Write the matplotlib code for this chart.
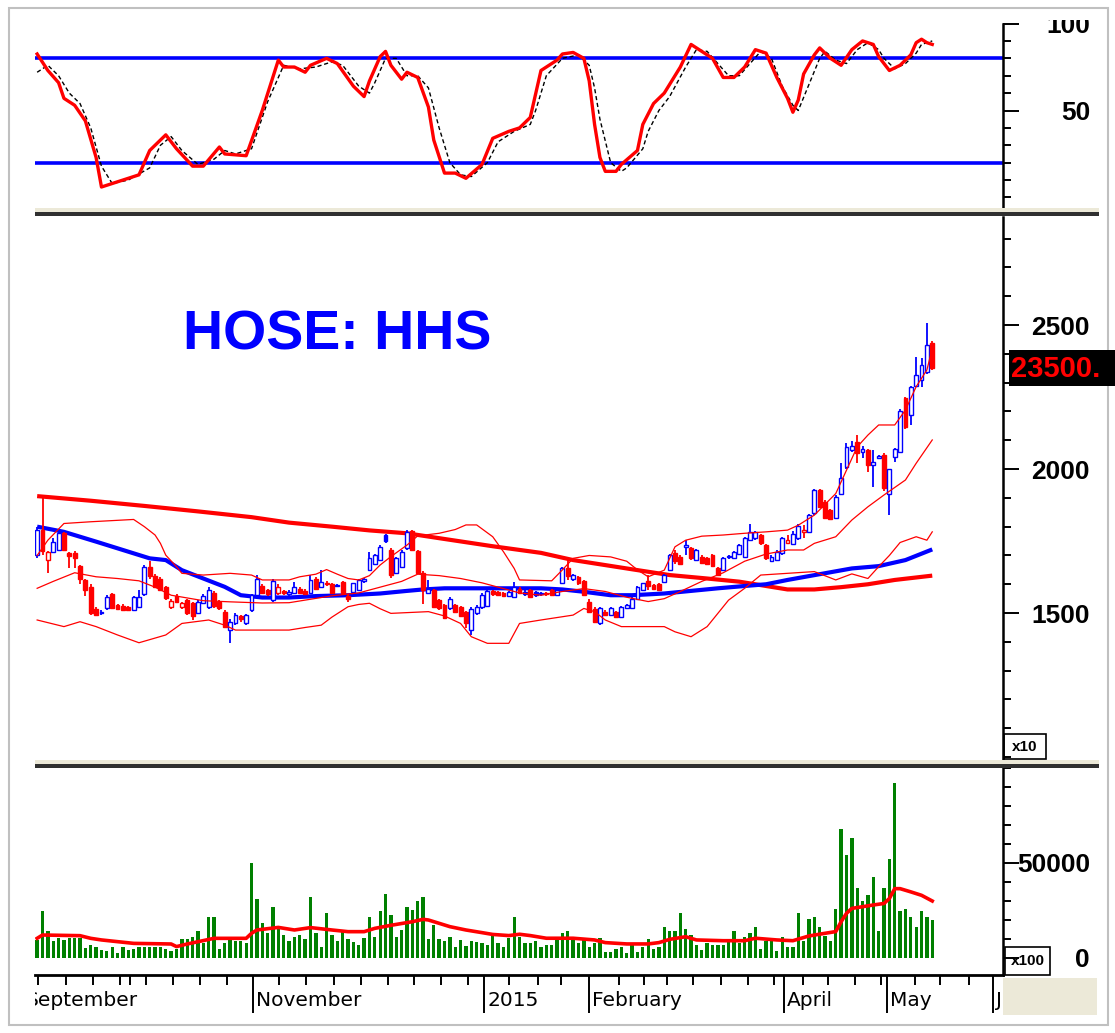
import numpy as np
import matplotlib
matplotlib.use("Agg")
import matplotlib.pyplot as plt
from matplotlib.patches import Rectangle
from matplotlib.transforms import Bbox, TransformedBbox

plt.rcParams['font.family'] = ['Liberation Sans', 'DejaVu Sans']

W, H = 1115, 1033
PT = 72 / 100  # points per pixel at dpi 100
RED = '#ff0000'
BLUE = '#0000ff'
GREEN = '#008000'

# ---- daily candles (trading-day index 0..167), price in VND/10 ----
opens = [1701, 1790, 1684, 1713, 1719, 1777, 1707, 1710, 1665, 1615,
         1590, 1515, 1500, 1516, 1567, 1528, 1526, 1522, 1512, 1520,
         1565, 1660, 1630, 1620, 1590, 1520, 1560, 1520, 1545, 1535,
         1500, 1535, 1520, 1568, 1540, 1505, 1440, 1464, 1490, 1464,
         1510, 1562, 1595, 1580, 1545, 1570, 1575, 1565, 1570, 1585,
         1578, 1568, 1620, 1591, 1605, 1600, 1595, 1609, 1560, 1574,
         1580, 1610, 1650, 1672, 1685, 1770, 1720, 1640, 1660, 1725,
         1785, 1715, 1640, 1570, 1580, 1545, 1528, 1516, 1528, 1522,
         1505, 1440, 1500, 1520, 1525, 1575, 1572, 1568, 1560, 1557,
         1585, 1565, 1580, 1572, 1565, 1568, 1580, 1562, 1603, 1655,
         1617, 1625, 1610, 1540, 1515, 1464, 1505, 1493, 1505, 1487,
         1517, 1518, 1550, 1580, 1610, 1598, 1600, 1609, 1650, 1710,
         1695, 1730, 1725, 1685, 1695, 1690, 1700, 1655, 1650, 1693,
         1690, 1705, 1695, 1755, 1760, 1770, 1735, 1680, 1684, 1707,
         1745, 1740, 1760, 1782, 1782, 1846, 1927, 1887, 1857, 1829,
         1915, 2008, 2066, 2095, 2060, 2066, 2014, 2040, 2048, 1915,
         2043, 2060, 2245, 2187, 2290, 2310, 2338, 2436]
highs = [1800, 1906, 1716, 1760, 1790, 1782, 1712, 1715, 1668, 1620,
         1600, 1520, 1512, 1562, 1570, 1530, 1530, 1525, 1560, 1580,
         1668, 1680, 1635, 1625, 1595, 1548, 1565, 1538, 1550, 1540,
         1545, 1565, 1590, 1575, 1545, 1510, 1480, 1500, 1495, 1498,
         1565, 1632, 1600, 1585, 1620, 1600, 1580, 1580, 1609, 1590,
         1582, 1632, 1625, 1650, 1612, 1605, 1600, 1612, 1565, 1605,
         1618, 1622, 1713, 1705, 1735, 1775, 1725, 1695, 1718, 1788,
         1790, 1720, 1645, 1615, 1585, 1550, 1532, 1555, 1532, 1525,
         1508, 1520, 1528, 1568, 1580, 1580, 1575, 1572, 1578, 1609,
         1590, 1580, 1585, 1575, 1572, 1572, 1585, 1585, 1660, 1684,
         1635, 1630, 1615, 1548, 1520, 1520, 1510, 1520, 1508, 1525,
         1532, 1555, 1595, 1606, 1632, 1602, 1605, 1636, 1705, 1718,
         1700, 1755, 1730, 1722, 1700, 1695, 1705, 1660, 1695, 1700,
         1716, 1740, 1765, 1810, 1786, 1775, 1740, 1700, 1718, 1765,
         1770, 1785, 1810, 1805, 1845, 1930, 1932, 1892, 1860, 1910,
         2020, 2089, 2097, 2118, 2080, 2070, 2066, 2050, 2055, 2000,
         2072, 2210, 2250, 2290, 2390, 2385, 2508, 2445]
lows = [1690, 1700, 1638, 1708, 1715, 1715, 1655, 1655, 1600, 1560,
        1495, 1490, 1492, 1510, 1514, 1512, 1510, 1506, 1508, 1518,
        1560, 1620, 1588, 1575, 1545, 1515, 1535, 1515, 1495, 1475,
        1498, 1530, 1515, 1518, 1512, 1448, 1395, 1460, 1470, 1460,
        1505, 1555, 1565, 1560, 1540, 1562, 1562, 1560, 1565, 1565,
        1562, 1565, 1580, 1588, 1595, 1565, 1590, 1565, 1540, 1570,
        1575, 1605, 1645, 1668, 1680, 1745, 1622, 1635, 1655, 1720,
        1715, 1635, 1530, 1565, 1518, 1512, 1478, 1510, 1500, 1485,
        1447, 1425, 1495, 1515, 1520, 1560, 1558, 1555, 1555, 1552,
        1565, 1560, 1552, 1555, 1560, 1560, 1558, 1560, 1600, 1615,
        1612, 1598, 1558, 1500, 1465, 1460, 1490, 1490, 1482, 1482,
        1514, 1515, 1548, 1578, 1580, 1582, 1576, 1605, 1645, 1670,
        1668, 1700, 1685, 1680, 1670, 1668, 1660, 1628, 1645, 1688,
        1686, 1700, 1690, 1750, 1755, 1738, 1684, 1676, 1680, 1703,
        1740, 1735, 1752, 1760, 1778, 1840, 1865, 1825, 1822, 1825,
        1910, 2000, 2060, 2020, 2040, 1990, 1938, 2035, 1925, 1840,
        2025, 2055, 2140, 2152, 2285, 2285, 2330, 2345]
closes = [1788, 1715, 1712, 1748, 1777, 1719, 1699, 1690, 1620, 1580,
          1500, 1493, 1505, 1557, 1516, 1514, 1512, 1510, 1555, 1557,
          1660, 1627, 1592, 1580, 1551, 1543, 1540, 1535, 1499, 1490,
          1540, 1560, 1580, 1523, 1517, 1453, 1468, 1493, 1480, 1493,
          1562, 1620, 1570, 1565, 1612, 1592, 1568, 1574, 1590, 1570,
          1566, 1614, 1585, 1609, 1600, 1568, 1597, 1568, 1548, 1603,
          1615, 1618, 1690, 1700, 1730, 1750, 1632, 1690, 1713, 1782,
          1720, 1640, 1580, 1585, 1522, 1517, 1482, 1550, 1505, 1490,
          1465, 1515, 1522, 1562, 1575, 1565, 1562, 1560, 1572, 1591,
          1570, 1574, 1557, 1562, 1568, 1566, 1562, 1580, 1655, 1630,
          1632, 1603, 1562, 1505, 1470, 1516, 1495, 1516, 1487, 1522,
          1528, 1550, 1590, 1603, 1595, 1585, 1580, 1632, 1700, 1680,
          1672, 1735, 1690, 1718, 1675, 1672, 1665, 1632, 1690, 1696,
          1713, 1735, 1760, 1780, 1782, 1742, 1690, 1695, 1713, 1759,
          1752, 1776, 1802, 1790, 1840, 1927, 1869, 1830, 1826, 1904,
          1968, 2077, 2080, 2054, 2070, 2014, 2025, 2043, 1933, 1999,
          2068, 2200, 2147, 2286, 2325, 2360, 2430, 2350]
volumes = [9500, 24700, 14200, 9100, 10400, 9500, 10400, 10400, 10400, 5100,
           6800, 5600, 4200, 3900, 6000, 2800, 6000, 4200, 4600, 6000,
           6000, 6000, 6000, 6000, 4600, 3900, 4600, 10000, 10000, 11200,
           14400, 7700, 21800, 21800, 4600, 8100, 9500, 9100, 9100, 8100,
           50200, 31000, 18600, 13300, 27000, 16500, 12100, 9100, 10900, 12100,
           9800, 32300, 13000, 5600, 23900, 12100, 9100, 14400, 9800, 8600,
           6800, 10400, 21800, 10900, 24700, 33500, 22600, 11200, 14700, 27000,
           25100, 30200, 32300, 9800, 17400, 9800, 9100, 10900, 6000, 9500,
           6300, 9100, 8600, 8100, 6800, 11400, 7700, 6000, 10300, 21800,
           11200, 8100, 8100, 9100, 6000, 6800, 6800, 9500, 13000, 14200,
           10300, 7700, 9500, 6000, 7700, 10300, 3300, 3300, 4600, 6000,
           2500, 6800, 3300, 6000, 9800, 4600, 6000, 16500, 14200, 14200,
           23900, 15100, 12100, 6800, 4200, 8100, 6800, 6800, 6800, 9500,
           14200, 7700, 11200, 13000, 16500, 4600, 9100, 9500, 3700, 11200,
           6000, 6000, 23500, 9100, 20700, 21800, 16500, 11600, 9100, 25600,
           68100, 54200, 63000, 36700, 30200, 33200, 42800, 14200, 36700, 51900,
           92300, 24700, 25600, 21800, 16500, 24700, 21800, 20000]

# ---- indicator lines (bar index, value) ----
ma_long_x = [0, 10, 20, 30, 40, 47, 55, 62, 69, 75, 85, 94, 100, 111, 118, 125,
             131, 136, 140, 145, 150, 155, 160, 167]
ma_long = [1906, 1890, 1872, 1853, 1833, 1814, 1800, 1787, 1777, 1760, 1732, 1709,
           1684, 1652, 1632, 1620, 1609, 1594, 1582, 1582, 1590, 1600, 1615, 1630]
ma_mid_x = [0, 5, 11, 16, 21, 24, 27, 31, 35, 38, 42, 47, 52, 58, 64, 69, 72, 76,
            83, 94, 98, 102, 107, 111, 117, 122, 127, 132, 136, 140, 146, 152, 157,
            162, 167]
ma_mid = [1800, 1782, 1748, 1719, 1690, 1684, 1649, 1620, 1591, 1562, 1554, 1554,
          1559, 1562, 1568, 1577, 1582, 1586, 1586, 1586, 1582, 1574, 1562, 1562,
          1568, 1577, 1586, 1594, 1600, 1615, 1635, 1655, 1663, 1684, 1721]
bb_up_x = [0, 2, 5, 10, 18, 20, 22, 23, 24, 26, 27, 31, 36, 40, 42, 47, 49, 52, 54,
           56, 58, 60, 62, 64, 66, 69, 71, 75, 78, 80, 82, 85, 87, 89, 90, 96, 98,
           100, 103, 107, 110, 112, 114, 117, 119, 121, 124, 128, 132, 136, 140,
           142, 145, 149, 151, 153, 155, 157, 160, 162, 164, 166, 167]
bb_up = [1700, 1753, 1811, 1817, 1825, 1800, 1771, 1742, 1701, 1661, 1638, 1632,
         1638, 1632, 1615, 1615, 1626, 1635, 1651, 1635, 1620, 1615, 1630, 1667,
         1696, 1736, 1768, 1777, 1790, 1806, 1806, 1765, 1713, 1655, 1615, 1612,
         1650, 1690, 1700, 1695, 1680, 1650, 1626, 1649, 1730, 1753, 1767, 1771,
         1777, 1782, 1788, 1805, 1840, 1915, 1996, 2077, 2118, 2153, 2153, 2205,
         2286, 2344, 2419]
bb_mid_x = [0, 3, 7, 11, 15, 19, 22, 25, 31, 36, 42, 47, 50, 55, 60, 64, 68, 71,
            75, 79, 83, 87, 90, 94, 98, 102, 106, 110, 114, 117, 120, 124, 128,
            132, 136, 140, 143, 145, 149, 152, 155, 158, 162, 164, 167]
bb_mid = [1586, 1610, 1640, 1626, 1620, 1612, 1590, 1562, 1543, 1539, 1535, 1536,
          1545, 1560, 1570, 1590, 1610, 1635, 1630, 1620, 1605, 1585, 1570, 1562,
          1575, 1585, 1575, 1555, 1540, 1550, 1575, 1610, 1640, 1680, 1705, 1719,
          1719, 1742, 1765, 1823, 1869, 1910, 1962, 2020, 2101]
bb_lo_x = [0, 5, 8, 11, 15, 19, 24, 27, 32, 35, 37, 47, 50, 53, 55, 58, 60, 62, 64,
           66, 73, 76, 79, 81, 84, 88, 90, 94, 100, 102, 104, 106, 109, 117, 119,
           122, 125, 127, 129, 132, 135, 140, 145, 149, 152, 155, 157, 159, 161,
           164, 166, 167]
bb_lo = [1476, 1453, 1470, 1453, 1424, 1397, 1424, 1464, 1476, 1458, 1441, 1441,
         1450, 1458, 1486, 1522, 1530, 1534, 1515, 1499, 1505, 1490, 1464, 1418,
         1395, 1395, 1464, 1476, 1493, 1516, 1505, 1476, 1453, 1453, 1435, 1418,
         1453, 1499, 1545, 1586, 1632, 1638, 1644, 1615, 1636, 1620, 1661, 1700,
         1745, 1765, 1753, 1782]
vol_ma_x = [0, 1, 8, 10, 12, 15, 18, 25, 26, 28, 33, 39, 40, 41, 45, 48, 51, 55,
            58, 61, 63, 66, 70, 72, 73, 75, 77, 80, 83, 85, 88, 90, 92, 95, 100,
            104, 106, 110, 114, 116, 118, 121, 123, 128, 132, 134, 138, 141, 144,
            147, 149, 150, 151, 152, 154, 156, 158, 159, 160, 161, 163, 165, 167]
vol_ma = [10350, 12100, 11750, 10350, 9500, 8600, 7700, 7370, 6000, 7370, 10350,
          10350, 13000, 14740, 16100, 14740, 16000, 14740, 13860, 13860, 15600,
          17200, 19100, 20350, 20000, 18250, 16500, 14740, 13350, 12400, 11800,
          12500, 11800, 10400, 10400, 9500, 8100, 7400, 7400, 8100, 9800, 11200,
          9500, 9100, 9100, 10400, 9500, 9100, 11600, 13000, 13900, 19100, 23500,
          26100, 27000, 27900, 28700, 31300, 36500, 36500, 34800, 33000, 30000]
stk_x = [0, 2, 4, 5, 7, 9, 11, 12, 15, 19, 21, 24, 26, 29, 31, 34, 35, 39, 42, 45,
         46, 48, 50, 51, 54, 56, 59, 61, 62, 64, 65, 66, 68, 69, 71, 73, 74, 76,
         78, 80, 83, 85, 88, 90, 92, 94, 97, 98, 100, 102, 103, 104, 105, 106,
         108, 109, 112, 113, 115, 117, 120, 122, 124, 126, 128, 130, 132, 134,
         136, 138, 140, 141, 142, 143, 145, 146, 148, 150, 152, 154, 156, 157,
         159, 161, 163, 164, 165, 166, 167]
stk_k = [82.5, 73, 66, 57, 53, 44, 23, 6, 9, 13, 27, 36, 28, 18, 18, 29, 25, 24,
         50, 79, 75, 75, 72, 76, 80, 77, 64, 58, 67, 81, 84, 76, 68, 72, 69, 52,
         33, 14, 14, 11, 19, 34, 38, 40, 46, 73, 79, 82.5, 83.4, 80, 67, 42, 23,
         15, 15, 19, 27, 42, 54, 60, 75, 88, 84, 80, 69, 69, 75, 85, 83, 69, 57,
         49, 56, 71, 82, 86, 80, 76, 85, 90, 88, 81, 73, 76, 82, 89, 91, 89, 88]
std_x = [0, 2, 4, 6, 8, 10, 12, 14, 17, 21, 23, 25, 27, 30, 33, 35, 37, 40, 43, 46,
         49, 52, 55, 57, 60, 62, 63, 65, 67, 69, 71, 73, 75, 77, 79, 81, 84, 86,
         89, 92, 93, 95, 98, 101, 103, 104, 105, 107, 109, 110, 113, 114, 116,
         118, 121, 123, 125, 127, 129, 131, 133, 135, 137, 139, 141, 142, 144,
         146, 147, 149, 151, 153, 155, 157, 158, 160, 162, 164, 165, 167]
std_d = [72, 76, 70, 60, 54, 40, 18, 8, 10, 17, 30, 35, 27, 19, 22, 27, 25, 28, 55,
         76, 74, 75, 78, 76, 64, 60, 66, 80, 80, 70, 70, 63, 40, 20, 13, 12, 20,
         32, 38, 42, 50, 70, 80, 82, 76, 63, 45, 20, 15, 17, 28, 38, 50, 58, 75,
         85, 84, 77, 70, 70, 77, 84, 80, 64, 53, 50, 65, 80, 84, 79, 77, 85, 89,
         85, 80, 74, 77, 83, 88, 90]

# ---- date axis (bar index of tick marks) ----
month_ticks = [-2.7, 40.3, 83.4, 103.0, 139.4, 158.6, 178.4]
month_names = ['September', 'November', '2015', 'February', 'April', 'May', 'June']
week_ticks = [0.1, 5.4, 10.4, 15.5, 17.4, 20.3, 25.4, 30.4, 35.4, 45.1, 50.2, 55.4,
              60.4, 65.4, 70.3, 75.4, 80.4, 88.1, 93.4, 97.8, 108.6, 113.2, 117.5,
              122.4, 127.6, 132.6, 137.4, 142.9, 147.6, 152.5, 157.5, 163.7, 168.5,
              173.9]

last_close_label = '23500.'
title = 'HOSE: HHS'

X0, X1 = -0.4, 180.2


def frac(x0, y0, x1, y1):
    return [x0 / W, 1 - y1 / H, (x1 - x0) / W, (y1 - y0) / H]


def fig_rect(x0, y0, x1, y1, **kw):
    fig.add_artist(Rectangle((x0 / W, 1 - y1 / H), (x1 - x0) / W, (y1 - y0) / H,
                             transform=fig.transFigure, **kw))


def right_axis(ax, major, labels, minor, ylim):
    for s in ['top', 'left', 'bottom']:
        ax.spines[s].set_visible(False)
    ax.spines['right'].set_linewidth(1.8)
    ax.set_xticks([])
    ax.yaxis.tick_right()
    ax.set_yticks(major)
    ax.set_yticklabels(labels)
    ax.set_yticks(minor, minor=True)
    ax.set_xlim(X0, X1)
    ax.set_ylim(*ylim)
    ax.tick_params(axis='y', which='major', length=16 * PT, width=1.4,
                   pad=(87 - 16) * PT, labelsize=19)
    ax.tick_params(axis='y', which='minor', length=8 * PT, width=1.4)
    for t in ax.get_yticklabels():
        t.set_ha('right')
        t.set_fontweight('bold')


fig = plt.figure(figsize=(W / 100, H / 100), dpi=100)
fig.patch.set_facecolor('white')

ax_s = fig.add_axes(frac(35, 10, 1003, 211))
ax_p = fig.add_axes(frac(35, 217, 1003, 762))
ax_v = fig.add_axes(frac(35, 768, 1003, 975))
ax_d = fig.add_axes(frac(35, 975, 1003, 1020))

# ---- stochastic panel ----
ax_s.axhline(80, color=BLUE, lw=2.6, zorder=2)
ax_s.axhline(20, color=BLUE, lw=2.6, zorder=2)
ax_s.plot(std_x, std_d, color='black', lw=1.0, ls=(0, (3, 2)), zorder=3)
ax_s.plot(stk_x, stk_k, color=RED, lw=2.4, zorder=4)
right_axis(ax_s, [50, 100], ['50', '100'], list(range(0, 100, 10)), (-7.8, 107.8))
ax_s.spines['right'].set_bounds(-7.8, 100)
# the top label is cut by the panel edge in the original
clip = TransformedBbox(Bbox.from_extents(0, 0, 1, 1 - 20 / H), fig.transFigure)
for t in ax_s.get_yticklabels():
    t.set_clip_on(True)
    t.set_clip_box(clip)

# ---- price panel ----
idx = np.arange(len(closes))
o = np.array(opens, float)
c = np.array(closes, float)
hi = np.array(highs, float)
lo = np.array(lows, float)
prev = np.r_[o[0], c[:-1]]
up = c >= prev
col = np.where(up, BLUE, RED)
face = np.where(c > o, 'white', col)
body_lo = np.minimum(o, c)
body_h = np.maximum(np.abs(c - o), 4)

ax_p.plot(ma_long_x, ma_long, color=RED, lw=3.0, zorder=2, solid_capstyle='butt')
ax_p.plot(ma_mid_x, ma_mid, color=BLUE, lw=3.0, zorder=2, solid_capstyle='butt')
ax_p.vlines(idx, lo, hi, colors=col, lw=1.3, zorder=3)
ax_p.bar(idx, body_h, bottom=body_lo, width=0.72, color=face, edgecolor=col,
         linewidth=1.0, zorder=3)
for bx, by in [(bb_up_x, bb_up), (bb_mid_x, bb_mid), (bb_lo_x, bb_lo)]:
    ax_p.plot(bx, by, color=RED, lw=0.9, zorder=4)
right_axis(ax_p, [1500, 2000, 2500], ['1500', '2000', '2500'],
           list(range(1000, 2900, 100)), (983, 2875))
ax_p.text(0.153, 0.756, title, transform=ax_p.transAxes, fontsize=40,
          fontweight='bold', color=BLUE, va='baseline', ha='left')

# ---- volume panel ----
ax_v.bar(idx, volumes, width=0.62, color=GREEN, linewidth=0, zorder=2)
ax_v.plot(vol_ma_x, vol_ma, color=RED, lw=2.6, zorder=3)
right_axis(ax_v, [0, 50000], ['0', '50000'], list(range(10000, 100001, 10000)),
           (-8950, 100000))

# ---- date axis ----
for s in ['left', 'right', 'bottom']:
    ax_d.spines[s].set_visible(False)
ax_d.spines['top'].set_linewidth(2.0)
ax_d.set_yticks([])
ax_d.xaxis.set_ticks_position('top')
ax_d.set_xticks(month_ticks)
ax_d.set_xticklabels([])
ax_d.set_xticks(week_ticks, minor=True)
ax_d.set_xlim(X0, X1)
ax_d.set_ylim(0, 1)
ax_d.tick_params(axis='x', which='major', direction='in', length=38 * PT, width=1.4)
ax_d.tick_params(axis='x', which='minor', direction='in', length=10 * PT, width=1.4)
for pos, name in zip(month_ticks, month_names):
    ax_d.text(pos + 0.55, 0.44, name, fontsize=14.5, family='DejaVu Sans',
              va='center', ha='left', clip_on=True)

# ---- frame, separators and boxes ----
fig_rect(9, 8, 1108, 1025, fill=False, edgecolor='#c0c0c0', lw=1.5)
for y in (208, 760):
    fig_rect(35, y, 1099, y + 4, color='#ece9d8', lw=0)
    fig_rect(35, y + 4, 1099, y + 8, color='#303030', lw=0)
fig_rect(1003, 978, 1097, 1015, color='#ece9d8', lw=0)

fig_rect(1004, 734, 1046, 759, fill=False, edgecolor='black', lw=1.2)
fig.text(1025 / W, 1 - 747 / H, 'x10', fontsize=11, fontweight='bold',
         ha='center', va='center')
fig_rect(1005, 947, 1050, 975, fill=False, edgecolor='black', lw=1.2)
fig.text(1027.5 / W, 1 - 961 / H, 'x100', fontsize=11, fontweight='bold',
         ha='center', va='center')

fig_rect(1009, 350, 1115, 386, color='black', lw=0)
fig.text(1011 / W, 1 - 369 / H, last_close_label, fontsize=21, fontweight='bold',
         color=RED, ha='left', va='center')

fig.savefig('out.png', dpi=100)
